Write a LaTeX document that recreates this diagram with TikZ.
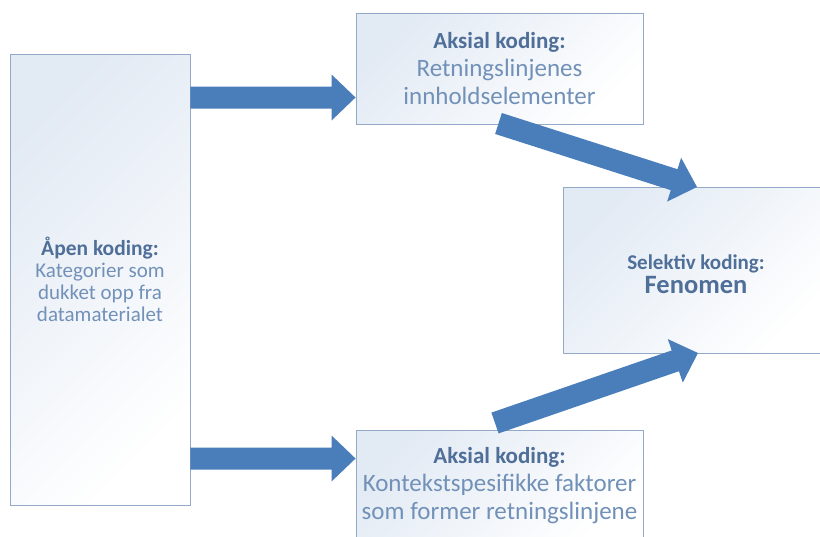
\documentclass[tikz,border=0pt]{standalone}
\usepackage{fontspec}
\setmainfont{Carlito}
\usetikzlibrary{calc}

\definecolor{boxline}{HTML}{93A9C6}
\definecolor{boxtint}{HTML}{E2EAF4}
\definecolor{arrowblue}{HTML}{4A7EBB}
\definecolor{headtext}{HTML}{4F6F99}
\definecolor{bodytext}{HTML}{7291B8}

% block arrow from coordinate #1 to coordinate #2
\newcommand\blockarrow[2]{%
  \coordinate (#1-h) at ($(#2)!24pt!(#1)$);
  \fill[arrowblue]
    ($(#1)!11pt!90:(#2)$) -- ($(#1-h)!11pt!90:(#2)$) -- ($(#1-h)!23pt!90:(#2)$)
    -- (#2)
    -- ($(#1-h)!23pt!-90:(#2)$) -- ($(#1-h)!11pt!-90:(#2)$) -- ($(#1)!11pt!-90:(#2)$)
    -- cycle;
}

\tikzset{
  codebox/.style={draw=boxline, line width=0.9pt, top color=boxtint, bottom color=white,
    shading angle=45, align=center, inner sep=0pt, text=bodytext},
  boxtext/.style={align=center, inner sep=0pt, text=headtext}
}

\begin{document}
\begin{tikzpicture}[x=1pt, y=-1pt]
\useasboundingbox (0,0) rectangle (820,536);
\clip (0,0) rectangle (820,536);
\fill[white] (0,0) rectangle (820,536);

% open coding (left column)
\node[codebox, minimum width=180pt, minimum height=451pt,
      font=\fontsize{21}{22}\selectfont] (open) at (100,279.5)
  {{\bfseries\color{headtext}\fontsize{21.5}{22}\selectfont Åpen koding:}\\
   Kategorier som\\dukket opp fra\\datamaterialet};

% axial coding, upper
\node[codebox, minimum width=287pt, minimum height=111pt,
      font=\fontsize{25}{28}\selectfont] (axtop) at (499.5,68.5)
  {{\bfseries\color{headtext}\fontsize{23}{28}\selectfont Aksial koding:}\\
   Retningslinjenes\\innholdselementer};

% axial coding, lower
\node[codebox, minimum width=287pt, minimum height=111pt,
      font=\fontsize{25}{28}\selectfont] (axbot) at (499.5,485.5)
  {{\bfseries\color{headtext}\fontsize{23}{28}\selectfont Aksial koding:}\\
   Kontekstspesifikke faktorer\\som former retningslinjene};

% selective coding
\node[codebox, minimum width=266pt, minimum height=166pt] (sel) at (696,270) {};
\node[boxtext, font=\bfseries\fontsize{21}{24}\selectfont] (seltext) at ([yshift=-4pt]sel.center)
  {Selektiv koding:\\{\fontsize{26.5}{24}\selectfont Fenomen}};

% arrow end points
\coordinate (a1s) at (open.east |- 0,97.5);
\coordinate (a1e) at (axtop.west |- 0,97.5);
\coordinate (a2s) at (open.east |- 0,458.5);
\coordinate (a2e) at (axbot.west |- 0,458.5);
\coordinate (a3s) at (498.5,123.5);
\coordinate (a3e) at (697,187);
\coordinate (a4s) at (495,423);
\coordinate (a4e) at (698,353);

\blockarrow{a1s}{a1e}
\blockarrow{a2s}{a2e}
\blockarrow{a3s}{a3e}
\blockarrow{a4s}{a4e}
\end{tikzpicture}
\end{document}
